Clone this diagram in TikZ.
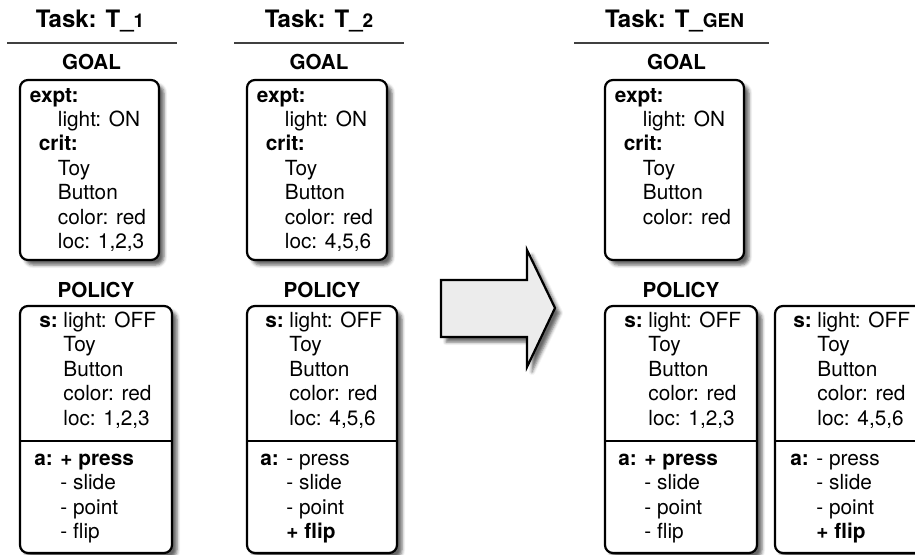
\documentclass[tikz,border=0pt]{standalone}
\usepackage{fontspec}
\setmainfont{TeX Gyre Heros}
\usetikzlibrary{positioning,shadows.blur}

\newcommand{\itemind}{\hspace*{14pt}}
\newcommand{\subfont}{\fontsize{9.5}{11}\selectfont}

\tikzset{
  card/.style={draw, line width=1.1pt, rounded corners=4pt, fill=white,
    outer sep=0pt, inner sep=0pt,
    blur shadow={shadow xshift=2.5pt, shadow yshift=-2.5pt,
      shadow blur radius=1.6pt, shadow opacity=60}},
  goalcard/.style={card, minimum width=69.5pt, minimum height=90pt, anchor=north west},
  policycard/.style={card, minimum width=76pt, minimum height=123.5pt, anchor=north west},
  lines/.style={align=left, inner sep=0pt, anchor=north west,
    font=\fontsize{10.4}{12.2}\selectfont},
  head/.style={font=\fontsize{10.3}{12}\selectfont\bfseries, inner sep=0pt},
  tasktitle/.style={font=\fontsize{12}{14}\selectfont\bfseries, inner sep=0pt, anchor=base},
  rule/.style={line width=0.75pt, black!75},
  divline/.style={line width=0.8pt},
  bigarrow/.style={draw, line width=1.1pt, fill=gray!15, miter limit=10,
    blur shadow={shadow xshift=2.5pt, shadow yshift=-2.5pt,
      shadow blur radius=1.6pt, shadow opacity=60}}
}

\begin{document}
\begin{tikzpicture}[x=0.5pt, y=-0.5pt]
\useasboundingbox (0,0) rectangle (915,555);

% task titles and rules
\node[tasktitle] (t1) at (90,28) {Task: T\_{\subfont 1}};
\node[tasktitle] (t2) at (319,28) {Task: T\_{\subfont 2}};
\node[tasktitle] (tg) at (674.5,28) {Task: T\_{\subfont GEN}};
\draw[rule] (7,43) -- (177,43);
\draw[rule] (234,43) -- (404,43);
\draw[rule] (574,43) -- (769,43);

% goal cards
\node[goalcard] (g1) at (20,80) {};
\node[goalcard, minimum width=70pt] (g2) at (247,80) {};
\node[goalcard] (gg) at (605,80) {};
\node[head, above=5pt of g1, xshift=1pt] (g1h) {GOAL};
\node[head, above=5pt of g2, xshift=1pt] (g2h) {GOAL};
\node[head, above=5pt of gg, xshift=1pt] (ggh) {GOAL};

\node[lines] (g1t) at ([xshift=4.75pt, yshift=-2.3pt]g1.north west)
  {\strut\textbf{expt:}\\ \itemind light: ON\\ \hspace*{4.5pt}\textbf{crit:}\\
   \itemind Toy\\ \itemind Button\\ \itemind color: red\\ \itemind loc: 1,2,3};
\node[lines] (g2t) at ([xshift=4.75pt, yshift=-2.3pt]g2.north west)
  {\strut\textbf{expt:}\\ \itemind light: ON\\ \hspace*{4.5pt}\textbf{crit:}\\
   \itemind Toy\\ \itemind Button\\ \itemind color: red\\ \itemind loc: 4,5,6};
\node[lines] (ggt) at ([xshift=4.75pt, yshift=-2.3pt]gg.north west)
  {\strut\textbf{expt:}\\ \itemind light: ON\\ \hspace*{4.5pt}\textbf{crit:}\\
   \itemind Toy\\ \itemind Button\\ \itemind color: red};

% big arrow
\draw[bigarrow] (441,280) -- (527,280) -- (527,250) -- (555,308)
  -- (527,367) -- (527,337) -- (441,337) -- cycle;

% policy cards
\node[policycard] (p1) at (20,306) {};
\node[policycard, minimum width=75pt] (p2) at (247,306) {};
\node[policycard] (pga) at (605,306) {};
\node[policycard] (pgb) at (775,306) {};
\node[head, above=4pt of p1] (p1h) {POLICY};
\node[head, above=4pt of p2] (p2h) {POLICY};
\node[head, above=4pt of pga] (pgh) {POLICY};
\foreach \card in {p1,p2,pga,pgb}
  \draw[divline] ([yshift=-67.5pt]\card.north west) -- ([yshift=-67.5pt]\card.north east);

% states
\node[lines] (p1s) at ([xshift=9.5pt, yshift=-2pt]p1.north west)
  {\strut\makebox[12pt][l]{\textbf{s:}}light: OFF\\ \hspace*{12pt}Toy\\
   \hspace*{12pt}Button\\ \hspace*{12pt}color: red\\ \hspace*{12pt}loc: 1,2,3};
\node[lines] (p2s) at ([xshift=9pt, yshift=-2pt]p2.north west)
  {\strut\makebox[12pt][l]{\textbf{s:}}light: OFF\\ \hspace*{12pt}Toy\\
   \hspace*{12pt}Button\\ \hspace*{12pt}color: red\\ \hspace*{12pt}loc: 4,5,6};
\node[lines] (pgas) at ([xshift=9.5pt, yshift=-2pt]pga.north west)
  {\strut\makebox[12pt][l]{\textbf{s:}}light: OFF\\ \hspace*{12pt}Toy\\
   \hspace*{12pt}Button\\ \hspace*{12pt}color: red\\ \hspace*{12pt}loc: 1,2,3};
\node[lines] (pgbs) at ([xshift=9pt, yshift=-2pt]pgb.north west)
  {\strut\makebox[12pt][l]{\textbf{s:}}light: OFF\\ \hspace*{12pt}Toy\\
   \hspace*{12pt}Button\\ \hspace*{12pt}color: red\\ \hspace*{12pt}loc: 4,5,6};

% actions
\node[lines] (p1a) at ([xshift=7pt, yshift=-71pt]p1.north west)
  {\strut\makebox[13pt][l]{\textbf{a:}}\textbf{+ press}\\ \hspace*{13pt}- slide\\
   \hspace*{13pt}- point\\ \hspace*{13pt}- flip};
\node[lines] (p2a) at ([xshift=6.5pt, yshift=-71pt]p2.north west)
  {\strut\makebox[13pt][l]{\textbf{a:}}- press\\ \hspace*{13pt}- slide\\
   \hspace*{13pt}- point\\ \hspace*{13pt}\textbf{+ flip}};
\node[lines] (pgaa) at ([xshift=6.5pt, yshift=-71pt]pga.north west)
  {\strut\makebox[13pt][l]{\textbf{a:}}\textbf{+ press}\\ \hspace*{13pt}- slide\\
   \hspace*{13pt}- point\\ \hspace*{13pt}- flip};
\node[lines] (pgba) at ([xshift=7.5pt, yshift=-71pt]pgb.north west)
  {\strut\makebox[13pt][l]{\textbf{a:}}- press\\ \hspace*{13pt}- slide\\
   \hspace*{13pt}- point\\ \hspace*{13pt}\textbf{+ flip}};
\end{tikzpicture}
\end{document}
